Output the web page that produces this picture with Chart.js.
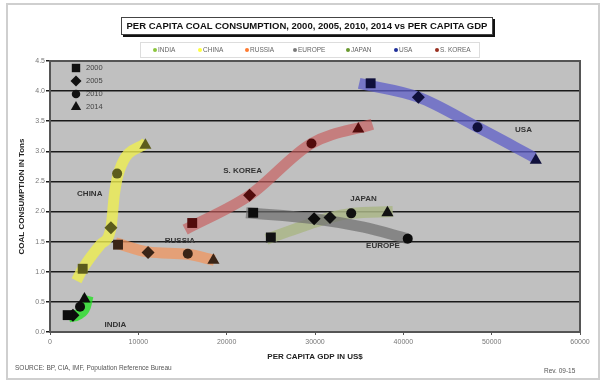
<!DOCTYPE html>
<html>
<head>
<meta charset="utf-8">
<script src="https://cdn.jsdelivr.net/npm/chart.js@4/dist/chart.umd.min.js"></script>
<style>
  body { margin: 0; background: #fff; }
  #wrap { position: relative; width: 602px; height: 381px; font-family: "Liberation Sans", Arial, sans-serif; }
  #frame { position: absolute; left: 6px; top: 3px; width: 590px; height: 373px; border: 2px solid #cfcfcf; }
  #title { position: absolute; left: 121px; top: 17px; width: 370px; height: 16px; border: 1px solid #444;
           box-shadow: 2px 2px 0 #111; background: #fff; font-weight: bold; font-size: 9.5px; line-height: 16px;
           text-align: center; color: #111; white-space: nowrap; }
  #legend { position: absolute; left: 140px; top: 42px; width: 338px; height: 14px; border: 1px solid #ddd;
            font-size: 6.5px; color: #666; line-height: 14px; }
  #legend span { position: absolute; top: 0; white-space: nowrap; }
  #legend i { display: inline-block; width: 4px; height: 4px; border-radius: 50%; margin-right: 1px; vertical-align: 0px; }
  .small { position: absolute; font-size: 6.5px; color: #555; white-space: nowrap; }
  canvas { position: absolute; left: 0; top: 0; }
</style>
</head>
<body>
<div id="wrap">
  <div id="frame"></div>
  <canvas id="c" width="602" height="381"></canvas>
  <div id="title">PER CAPITA COAL CONSUMPTION, 2000, 2005, 2010, 2014 vs PER CAPITA GDP</div>
  <div id="legend"></div>
  <div class="small" style="left:15px; top:364px;">SOURCE: BP, CIA, IMF, Population Reference Bureau</div>
  <div class="small" style="left:544px; top:367px;">Rev. 09-15</div>
</div>
<script>
// countries in legend order
const countries = ['INDIA', 'CHINA', 'RUSSIA', 'EUROPE', 'JAPAN', 'USA', 'S. KOREA'];
const years = ['2000', '2005', '2010', '2014'];
const yearMarkers = ['rect', 'rectRot', 'circle', 'triangle'];

// points per year: [gdp per capita US$, coal tons per capita], null = no point
const india  = [[2000, 0.28], [2600, 0.28], [3400, 0.42], [3900, 0.55]];
const china  = [[3700, 1.05], [6900, 1.73], [7600, 2.63], [10800, 3.10]];
const russia = [[7700, 1.45], [11100, 1.32], [15600, 1.30], [18500, 1.19]];
const europe = [[23000, 1.98], [29900, 1.88], [40500, 1.55], null];
const japan  = [[25000, 1.57], [31700, 1.90], [34100, 1.97], [38200, 1.98]];
const usa    = [[36300, 4.13], [41700, 3.90], [48400, 3.40], [55000, 2.85]];
const korea  = [[16100, 1.81], [22600, 2.27], [29600, 3.13], [34900, 3.37]];

// thick trend bands
const indiaBand  = [[2100, 0.25], [3300, 0.30], [4000, 0.42], [4300, 0.60]];
const chinaBand  = [[3000, 0.85], [3700, 1.05], [5700, 1.45], [6900, 1.73], [7300, 2.30], [7900, 2.70], [10900, 3.15]];
const russiaBand = [[7400, 1.48], [11100, 1.33], [15600, 1.29], [18600, 1.19]];
const europeBand = [[22200, 1.98], [29900, 1.88], [35500, 1.74], [40500, 1.55]];
const japanBand  = [[24500, 1.54], [31700, 1.90], [34100, 1.97], [38800, 2.00]];
const usaBand    = [[35000, 4.13], [41700, 3.90], [48400, 3.40], [54800, 2.90]];
const koreaBand  = [[15300, 1.70], [22600, 2.27], [29600, 3.13], [36500, 3.45]];

// country label anchors
const labelPos = [[7400, 0.12], [4500, 2.30], [14700, 1.52], [37700, 1.43], [35500, 2.22], [53600, 3.35], [21800, 2.67]];

const xTicks = [0, 10000, 20000, 30000, 40000, 50000, 60000];

const pointsByCountry = [india, china, russia, europe, japan, usa, korea];
const bands = [indiaBand, chinaBand, russiaBand, europeBand, japanBand, usaBand, koreaBand];
const bandColors = ['rgba(30,225,30,0.75)', 'rgba(238,238,80,0.8)', 'rgba(240,150,95,0.75)', 'rgba(110,110,110,0.7)',
                    'rgba(170,182,135,0.85)', 'rgba(95,95,200,0.75)', 'rgba(200,90,90,0.65)'];
const markerColors = ['#0c0c0c', '#5c5c1c', '#3a2416', '#0c0c0c', '#111', '#10103c', '#520c0c'];
const legendColors = ['#8cc63f', '#ffff40', '#ff7a30', '#7a7a7a', '#6a9a30', '#1e2f9a', '#9a3020'];
const legendLeft = [12, 57, 104, 152, 205, 253, 294];
const markerRadius = [7, 6.5, 5, 7];

const lg = document.getElementById('legend');
countries.forEach((c, i) => {
  const s = document.createElement('span');
  s.style.left = legendLeft[i] + 'px';
  s.innerHTML = '<i style="background:' + legendColors[i] + '"></i>' + c;
  lg.appendChild(s);
});

const datasets = [];
bands.forEach((b, i) => {
  datasets.push({
    type: 'line',
    data: b.map(p => ({ x: p[0], y: p[1] })),
    borderColor: bandColors[i],
    borderWidth: 11,
    borderCapStyle: 'butt',
    cubicInterpolationMode: 'monotone',
    pointRadius: 0,
    fill: false,
    order: 1
  });
});
years.forEach((yr, k) => {
  const pts = [], cols = [];
  pointsByCountry.forEach((arr, i) => {
    if (arr[k]) { pts.push({ x: arr[k][0], y: arr[k][1] }); cols.push(markerColors[i]); }
  });
  datasets.push({
    type: 'scatter',
    label: yr,
    data: pts,
    pointStyle: yearMarkers[k],
    pointRadius: markerRadius[k],
    backgroundColor: cols,
    borderColor: cols,
    borderWidth: 0,
    order: 0
  });
});

const decor = {
  id: 'decor',
  beforeDraw(chart) {
    const { ctx, chartArea: a } = chart;
    ctx.save();
    ctx.fillStyle = '#c0c0c0';
    ctx.fillRect(a.left, a.top, a.right - a.left, a.bottom - a.top);
    ctx.restore();
  },
  afterDraw(chart) {
    const { ctx, chartArea: a, scales } = chart;
    ctx.save();
    ctx.strokeStyle = '#555';
    ctx.lineWidth = 2;
    ctx.strokeRect(a.left, a.top, a.right - a.left, a.bottom - a.top);
    // country names
    ctx.fillStyle = '#333';
    ctx.font = 'bold 8px "Liberation Sans", Arial, sans-serif';
    ctx.textAlign = 'center';
    ctx.textBaseline = 'middle';
    countries.forEach((c, i) => {
      ctx.fillText(c, scales.x.getPixelForValue(labelPos[i][0]), scales.y.getPixelForValue(labelPos[i][1]));
    });
    // year marker key
    ctx.font = '7.5px "Liberation Sans", Arial, sans-serif';
    ctx.textAlign = 'left';
    years.forEach((yr, k) => {
      const x = a.left + 26, y = a.top + 7 + k * 13;
      ctx.fillStyle = '#111';
      ctx.strokeStyle = '#111';
      ctx.lineWidth = 0;
      Chart.helpers.drawPoint(ctx, { pointStyle: yearMarkers[k], radius: markerRadius[k] * 0.85, rotation: 0, borderWidth: 0 }, x, y);
      ctx.fillStyle = '#444';
      ctx.fillText(yr, x + 10, y);
    });
    ctx.restore();
  }
};

new Chart(document.getElementById('c'), {
  data: { datasets },
  options: {
    responsive: false,
    animation: false,
    layout: { padding: { left: 17, right: 22, top: 61, bottom: 19 } },
    plugins: { legend: { display: false }, tooltip: { enabled: false } },
    scales: {
      x: {
        type: 'linear',
        min: 0, max: 60000,
        afterBuildTicks(s) { s.ticks = xTicks.map(v => ({ value: v })); },
        afterFit(s) { s.height = 30; },
        grid: { drawOnChartArea: false, tickLength: 3, color: '#555' },
        border: { color: '#555', width: 2 },
        ticks: { color: '#777', font: { size: 7, family: '"Liberation Sans", Arial' }, padding: 3, maxRotation: 0,
                 callback: v => String(v) },
        title: { display: true, text: 'PER CAPITA GDP IN US$', color: '#222',
                 font: { size: 8, weight: 'bold', family: '"Liberation Sans", Arial' }, padding: 0 }
      },
      y: {
        min: 0, max: 4.5,
        afterFit(s) { s.width = 33; },
        ticks: { stepSize: 0.5, color: '#777', font: { size: 7, family: '"Liberation Sans", Arial' }, padding: 1,
                 callback: v => v.toFixed(1) },
        grid: { color: '#1a1a1a', lineWidth: 1.5, tickLength: 4 },
        border: { color: '#555', width: 2 },
        title: { display: true, text: 'COAL CONSUMPTION IN Tons', color: '#222',
                 font: { size: 8, weight: 'bold', family: '"Liberation Sans", Arial' }, padding: 0 }
      }
    }
  },
  plugins: [decor]
});
</script>
</body>
</html>
